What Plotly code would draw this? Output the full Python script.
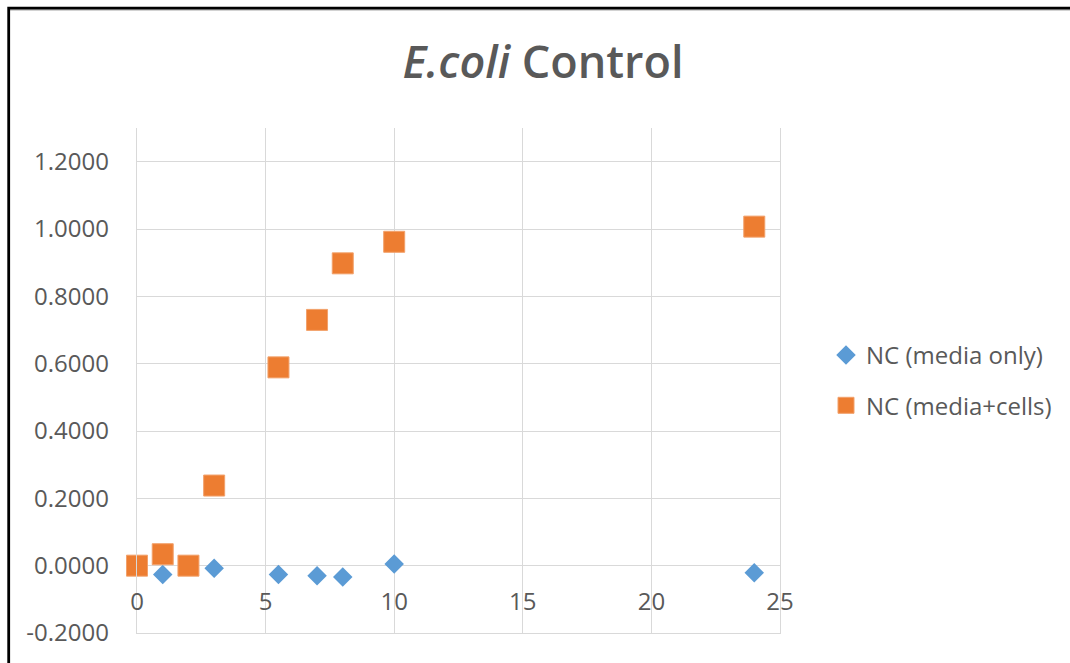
import plotly.graph_objects as go

# Sampling times and optical density readings
time_h = [0, 1, 2, 3, 5.5, 7, 8, 10, 24]
media_only = [0.000, -0.026, 0.000, -0.008, -0.026, -0.030, -0.034, 0.005, -0.021]
media_cells = [0.000, 0.034, 0.000, 0.238, 0.589, 0.730, 0.898, 0.962, 1.007]

series_names = ["NC (media only)", "NC (media+cells)"]
y_ticks = [-0.2, 0.0, 0.2, 0.4, 0.6, 0.8, 1.0, 1.2]
x_ticks = [0, 5, 10, 15, 20, 25]

W, H = 1070, 663
ML, MR, MT, MB = 137, 290, 128, 30
PW, PH = W - ML - MR, H - MT - MB
Y_RANGE = [-0.2, 1.3]
X_RANGE = [0, 25]

GRID = "#D9D9D9"
TEXT = "#595959"
FONT = "Open Sans"


def px_x(p):
    return (p - ML) / PW


def px_y(p):
    return (H - MB - p) / PH


fig = go.Figure()
fig.add_trace(go.Scatter(
    x=time_h, y=media_only, mode="markers", name=series_names[0],
    legendgroup="a", cliponaxis=False,
    marker=dict(symbol="diamond", size=15, color="#5B9BD5",
                line=dict(width=0)),
))
fig.add_trace(go.Scatter(
    x=time_h, y=media_cells, mode="markers", name=series_names[1],
    legendgroup="b", cliponaxis=False,
    marker=dict(symbol="square", size=21, color="#ED7D31",
                line=dict(width=1, color="#F2A16B")),
))

# horizontal axis labels sit on the y = 0 line
zero_pos = (0 - Y_RANGE[0]) / (Y_RANGE[1] - Y_RANGE[0])

fig.update_layout(
    width=W, height=H,
    margin=dict(l=ML, r=MR, t=MT, b=MB, pad=0),
    paper_bgcolor="white", plot_bgcolor="white",
    title=dict(
        text="<i>E.coli</i> Control",
        x=543 / W, xref="container", xanchor="center",
        y=1 - 62 / H, yref="container", yanchor="middle",
        font=dict(family=FONT, size=45, color=TEXT, weight=600),
    ),
    xaxis=dict(
        range=X_RANGE, tickvals=x_ticks, showticklabels=False,
        showgrid=True, gridcolor=GRID, gridwidth=1.4,
        zeroline=False, showline=True, linecolor=GRID, linewidth=1.4,
        ticks="",
    ),
    xaxis2=dict(
        overlaying="x", anchor="free", position=zero_pos, side="bottom",
        range=X_RANGE, tickvals=x_ticks, ticktext=[str(v) for v in x_ticks],
        showgrid=False, zeroline=False, showline=False, ticks="",
        tickfont=dict(family=FONT, size=24, color=TEXT),
        ticklabelstandoff=19,
    ),
    yaxis=dict(
        range=Y_RANGE, tickvals=y_ticks,
        ticktext=[f"{v:.4f}" for v in y_ticks],
        showgrid=True, gridcolor=GRID, gridwidth=1.4,
        zeroline=False, showline=True, mirror=True,
        linecolor=GRID, linewidth=1.4, ticks="",
        tickfont=dict(family=FONT, size=24, color=TEXT),
        ticklabelstandoff=22,
    ),
    showlegend=True,
    legend=dict(
        x=px_x(826), xanchor="left", y=0.5, yanchor="middle",
        font=dict(family=FONT, size=24, color=TEXT),
        tracegroupgap=16, bgcolor="rgba(0,0,0,0)",
    ),
    shapes=[
        dict(type="line", xref="paper", yref="paper",
             x0=px_x(8), x1=px_x(1100), y0=px_y(10), y1=px_y(10),
             line=dict(color="#A6A6A6", width=1.2)),
        dict(type="path", xref="paper", yref="paper",
             path=f"M {px_x(8.7)} {px_y(700)} L {px_x(8.7)} {px_y(8.2)} L {px_x(1100)} {px_y(8.2)}",
             line=dict(color="black", width=2.8)),
    ],
)

# attach an invisible trace so the label axis is rendered
fig.add_trace(go.Scatter(x=[None], y=[None], xaxis="x2", showlegend=False,
                         hoverinfo="skip"))

fig.write_html("out.html")
